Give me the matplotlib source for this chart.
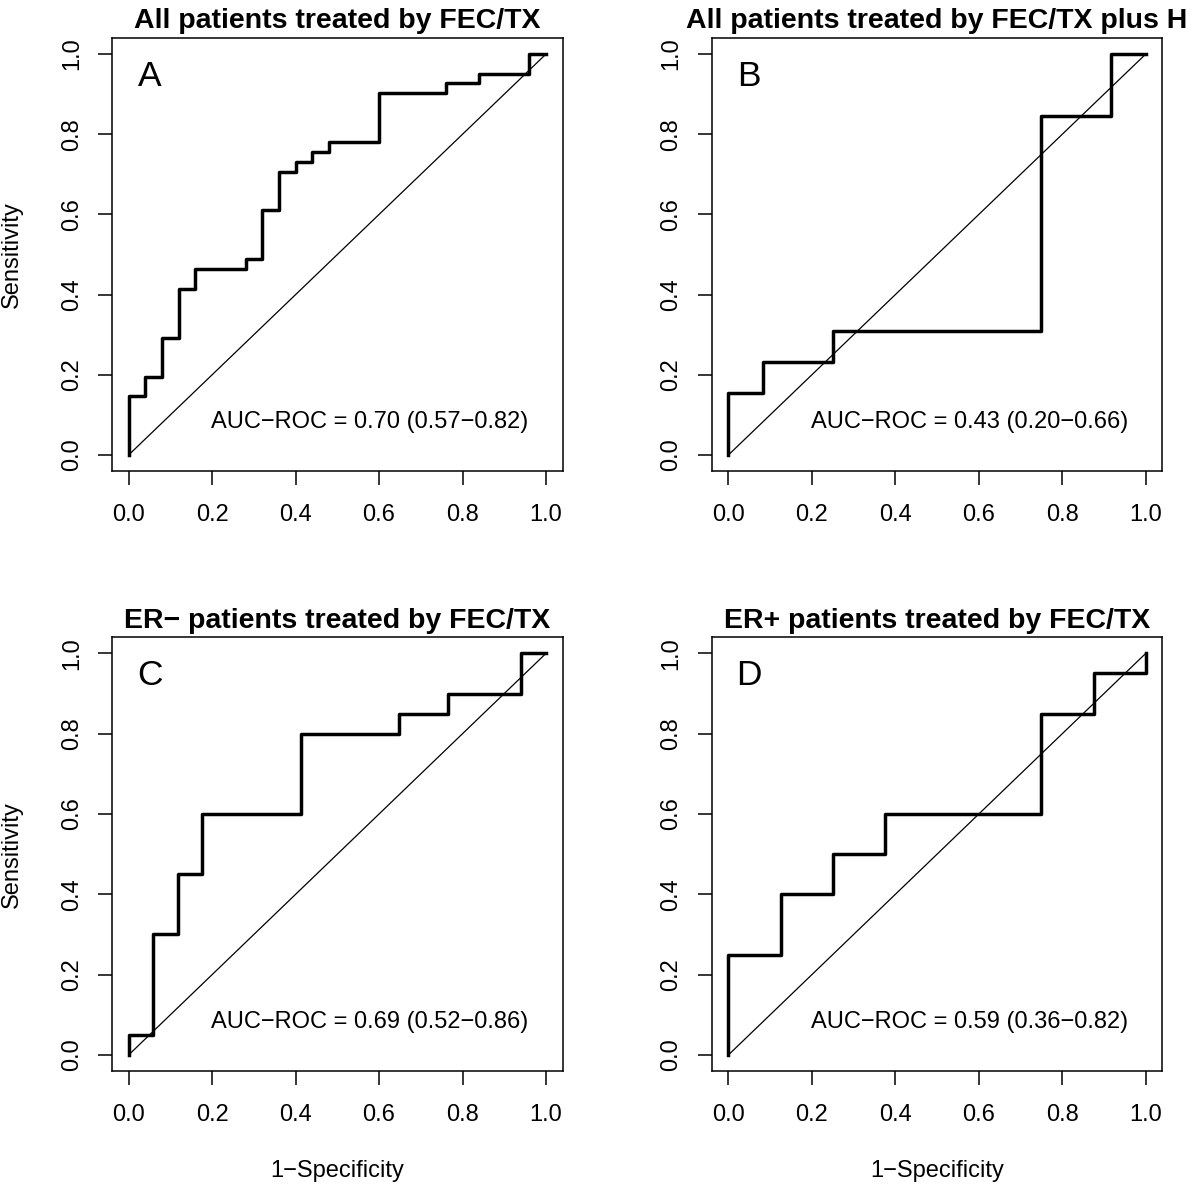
import matplotlib
matplotlib.use("Agg")
import matplotlib.pyplot as plt

plt.rcParams['font.family'] = ['Liberation Sans', 'DejaVu Sans']

# ROC step points (1-specificity, sensitivity)
fpr_a = [0, 0, 0.04, 0.08, 0.12, 0.16, 0.28, 0.32, 0.36, 0.40, 0.44, 0.48, 0.60, 0.76, 0.84, 0.96, 1.0]
tpr_a = [0, 0.146, 0.195, 0.293, 0.415, 0.463, 0.488, 0.610, 0.707, 0.732, 0.756, 0.780, 0.902, 0.927, 0.951, 1.0, 1.0]

fpr_b = [0, 0, 0.083, 0.25, 0.75, 0.917, 1.0]
tpr_b = [0, 0.154, 0.231, 0.308, 0.846, 1.0, 1.0]

fpr_c = [0, 0, 0.059, 0.118, 0.176, 0.412, 0.647, 0.765, 0.941, 1.0]
tpr_c = [0, 0.05, 0.30, 0.45, 0.60, 0.80, 0.85, 0.90, 1.0, 1.0]

fpr_d = [0, 0, 0.125, 0.25, 0.375, 0.75, 0.875, 1.0]
tpr_d = [0, 0.25, 0.40, 0.50, 0.60, 0.85, 0.95, 1.0]

titles = ['All patients treated by FEC/TX', 'All patients treated by FEC/TX plus H',
          'ER\u2212 patients treated by FEC/TX', 'ER+ patients treated by FEC/TX']
letters = ['A', 'B', 'C', 'D']
auc_text = ['AUC\u2212ROC = 0.70 (0.57\u22120.82)', 'AUC\u2212ROC = 0.43 (0.20\u22120.66)',
            'AUC\u2212ROC = 0.69 (0.52\u22120.86)', 'AUC\u2212ROC = 0.59 (0.36\u22120.82)']
diag = [0, 1]
ticks = [0.0, 0.2, 0.4, 0.6, 0.8, 1.0]
tick_labels = ['0.0', '0.2', '0.4', '0.6', '0.8', '1.0']

curves = [(fpr_a, tpr_a), (fpr_b, tpr_b), (fpr_c, tpr_c), (fpr_d, tpr_d)]

fig = plt.figure(figsize=(12, 12), dpi=100)
# axes boxes in figure fractions [left, bottom, width, height]
boxes = [[0.0933, 0.6075, 0.3756, 0.3608],
         [0.5931, 0.6075, 0.3756, 0.3608],
         [0.0933, 0.1075, 0.3756, 0.3614],
         [0.5931, 0.1075, 0.3756, 0.3614]]

for i in range(4):
    ax = fig.add_axes(boxes[i])
    x, y = curves[i]
    ax.step(x, y, where='post', color='black', linewidth=2.5)
    ax.plot(diag, diag, color='black', linewidth=0.9)
    ax.set_xlim(-0.04, 1.04)
    ax.set_ylim(-0.04, 1.04)
    ax.set_xticks(ticks)
    ax.set_xticklabels(tick_labels)
    ax.set_yticks(ticks)
    ax.set_yticklabels(tick_labels, rotation=90, va='center')
    ax.tick_params(direction='out', length=10, width=1.1, labelsize=17, pad=14)
    ax.tick_params(axis='y', pad=11)
    for s in ax.spines.values():
        s.set_linewidth(1.1)
    ax.set_title(titles[i], fontsize=20.5, fontweight='bold', pad=7)
    ax.text(0.05, 0.945, letters[i], fontsize=25.5, ha='center', va='center')
    ax.text(0.577, 0.083, auc_text[i], fontsize=17, ha='center', va='center')
    if i % 2 == 0:
        ax.set_ylabel('Sensitivity', fontsize=17, va='center')
        ax.yaxis.set_label_coords(-0.222, 0.5)
    if i >= 2:
        ax.set_xlabel('1\u2212Specificity', fontsize=17, va='center')
        ax.xaxis.set_label_coords(0.5, -0.231)

plt.savefig('out.png', dpi=100)
